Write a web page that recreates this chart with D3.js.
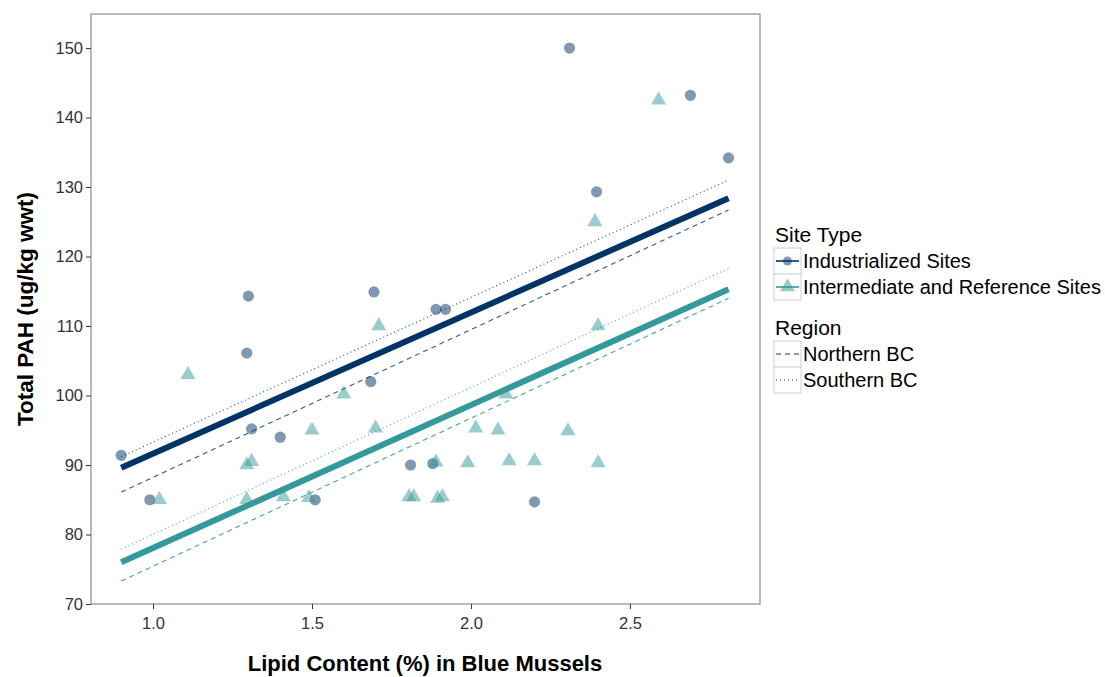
<!DOCTYPE html>
<html><head><meta charset="utf-8">
<script src="https://cdn.jsdelivr.net/npm/d3@7"></script>
<style>body{margin:0;background:#fff}svg{font-family:"Liberation Sans",Arial,sans-serif}</style>
</head><body><svg id="c" width="1105" height="677"></svg>
<script>
// Data
const siteTypes = ["Industrialized Sites", "Intermediate and Reference Sites"];
const regions = ["Northern BC", "Southern BC"];
const xTicks = [1.0, 1.5, 2.0, 2.5];
const yTicks = [70, 80, 90, 100, 110, 120, 130, 140, 150];
const indX = [0.90, 0.99, 1.30, 1.295, 1.31, 1.40, 1.51, 1.685, 1.695, 1.81, 1.88, 1.89, 1.92, 2.20, 2.31, 2.395, 2.69, 2.81];
const indY = [91.4, 85.0, 114.3, 106.1, 95.2, 94.0, 85.0, 102.0, 114.9, 90.0, 90.2, 112.4, 112.4, 84.7, 150.0, 129.3, 143.2, 134.2];
const refX = [1.02, 1.11, 1.295, 1.31, 1.295, 1.41, 1.49, 1.50, 1.60, 1.70, 1.71, 1.805, 1.82, 1.89, 1.895, 1.91, 1.99, 2.015, 2.085, 2.11, 2.12, 2.20, 2.305, 2.39, 2.40, 2.40, 2.59];
const refY = [85.0, 103.0, 90.0, 90.5, 85.0, 85.4, 85.3, 95.0, 100.2, 95.3, 110.0, 85.4, 85.4, 90.4, 85.2, 85.4, 90.3, 95.3, 95.0, 100.2, 90.6, 90.6, 94.9, 125.0, 110.0, 90.3, 142.5];
// fitted lines: values at x range ends
const fitX = [0.9, 2.81];
const indFitAll = [89.6, 128.4];
const indFitNorth = [86.1, 126.7];
const indFitSouth = [91.2, 131.0];
const refFitAll = [76.0, 115.3];
const refFitNorth = [73.3, 114.0];
const refFitSouth = [77.9, 118.3];

const navy = "#003366", teal = "#339999";
const svg = d3.select("#c");
const L = 91, R = 760, T = 14, B = 604;
const x = d3.scaleLinear().domain([0.805, 2.909]).range([L, R]);
const y = d3.scaleLinear().domain([70, 154.9]).range([B, T]);

const g = svg.append("g");
g.append("rect").attr("x", L).attr("y", T).attr("width", R - L).attr("height", B - T)
  .attr("fill", "#fff").attr("stroke", "#8c8c8c").attr("stroke-width", 1.2);

const xa = svg.append("g").attr("transform", `translate(0,${B})`)
  .call(d3.axisBottom(x).tickValues(xTicks).tickFormat(d3.format(".1f")).tickSize(5).tickPadding(8));
const ya = svg.append("g").attr("transform", `translate(${L},0)`)
  .call(d3.axisLeft(y).tickValues(yTicks).tickSize(5).tickPadding(3));
[xa, ya].forEach(a => {
  a.select(".domain").remove();
  a.selectAll(".tick line").attr("stroke", "#333");
  a.selectAll(".tick text").attr("fill", "#333").attr("font-size", "16.5px").attr("font-family", '"Liberation Sans",Arial,sans-serif');
});

const ptsG = svg.append("g");
ptsG.selectAll("circle.ind").data(indX.map((v, i) => [v, indY[i]])).join("circle")
  .attr("cx", d => x(d[0])).attr("cy", d => y(d[1])).attr("r", 5.6)
  .attr("fill", navy).attr("fill-opacity", 0.5);
const tri = d3.symbol().type(d3.symbolTriangle).size(98);
ptsG.selectAll("path.ref").data(refX.map((v, i) => [v, refY[i]])).join("path")
  .attr("transform", d => `translate(${x(d[0])},${y(d[1])})`).attr("d", tri)
  .attr("fill", teal).attr("fill-opacity", 0.5);

const line = d3.line().x(d => x(d[0])).y(d => y(d[1]));
function drawFit(vals, color, width, dash, op) {
  svg.append("path").datum(fitX.map((v, i) => [v, vals[i]])).attr("d", line)
    .attr("stroke", color).attr("stroke-width", width).attr("fill", "none")
    .attr("stroke-dasharray", dash).attr("stroke-opacity", op);
}
drawFit(indFitNorth, navy, 1.1, "5,4", 0.8);
drawFit(indFitSouth, navy, 1.1, "1,3", 0.9);
drawFit(refFitNorth, teal, 1.1, "5,4", 0.9);
drawFit(refFitSouth, teal, 1.1, "1,3", 0.9);
drawFit(indFitAll, navy, 6, null, 1);
drawFit(refFitAll, teal, 6, null, 1);

svg.append("text").attr("x", 425).attr("y", 671).attr("text-anchor", "middle")
  .attr("font-weight", "bold").attr("font-size", "22px").attr("fill", "#000")
  .text("Lipid Content (%) in Blue Mussels");
svg.append("text").attr("transform", `translate(33,${(T + B) / 2}) rotate(-90)`).attr("text-anchor", "middle")
  .attr("font-weight", "bold").attr("font-size", "22.5px").attr("fill", "#000")
  .text("Total PAH (ug/kg wwt)");

const lg = svg.append("g");
const kx = 774, kw = 27, kh = 26;
lg.append("text").attr("x", 775).attr("y", 242).attr("font-size", "21px").text("Site Type");
const stKeys = [navy, teal];
siteTypes.forEach((s, i) => {
  const ky = 248 + i * kh;
  lg.append("rect").attr("x", kx).attr("y", ky).attr("width", kw).attr("height", kh)
    .attr("fill", "#fff").attr("stroke", "#d0d0d0").attr("stroke-width", 1);
  lg.append("line").attr("x1", kx + 2).attr("x2", kx + kw - 2).attr("y1", ky + kh / 2).attr("y2", ky + kh / 2)
    .attr("stroke", stKeys[i]).attr("stroke-width", 1.6);
  if (i === 0) {
    lg.append("circle").attr("cx", kx + kw / 2).attr("cy", ky + kh / 2).attr("r", 4.5).attr("fill", navy).attr("fill-opacity", 0.5);
  } else {
    lg.append("path").attr("transform", `translate(${kx + kw / 2},${ky + kh / 2})`).attr("d", tri).attr("fill", teal).attr("fill-opacity", 0.5);
  }
  lg.append("text").attr("x", 803).attr("y", ky + 20).attr("font-size", "20px").text(s);
});
lg.append("text").attr("x", 775).attr("y", 335).attr("font-size", "21px").text("Region");
const dashes = ["5,4", "1,3"];
regions.forEach((r, i) => {
  const ky = 341 + i * kh;
  lg.append("rect").attr("x", kx).attr("y", ky).attr("width", kw).attr("height", kh)
    .attr("fill", "#fff").attr("stroke", "#d0d0d0").attr("stroke-width", 1);
  lg.append("line").attr("x1", kx + 2).attr("x2", kx + kw - 2).attr("y1", ky + kh / 2).attr("y2", ky + kh / 2)
    .attr("stroke", "#333").attr("stroke-width", 1).attr("stroke-dasharray", dashes[i]);
  lg.append("text").attr("x", 803).attr("y", ky + 20).attr("font-size", "20px").text(r);
});
</script></body></html>
